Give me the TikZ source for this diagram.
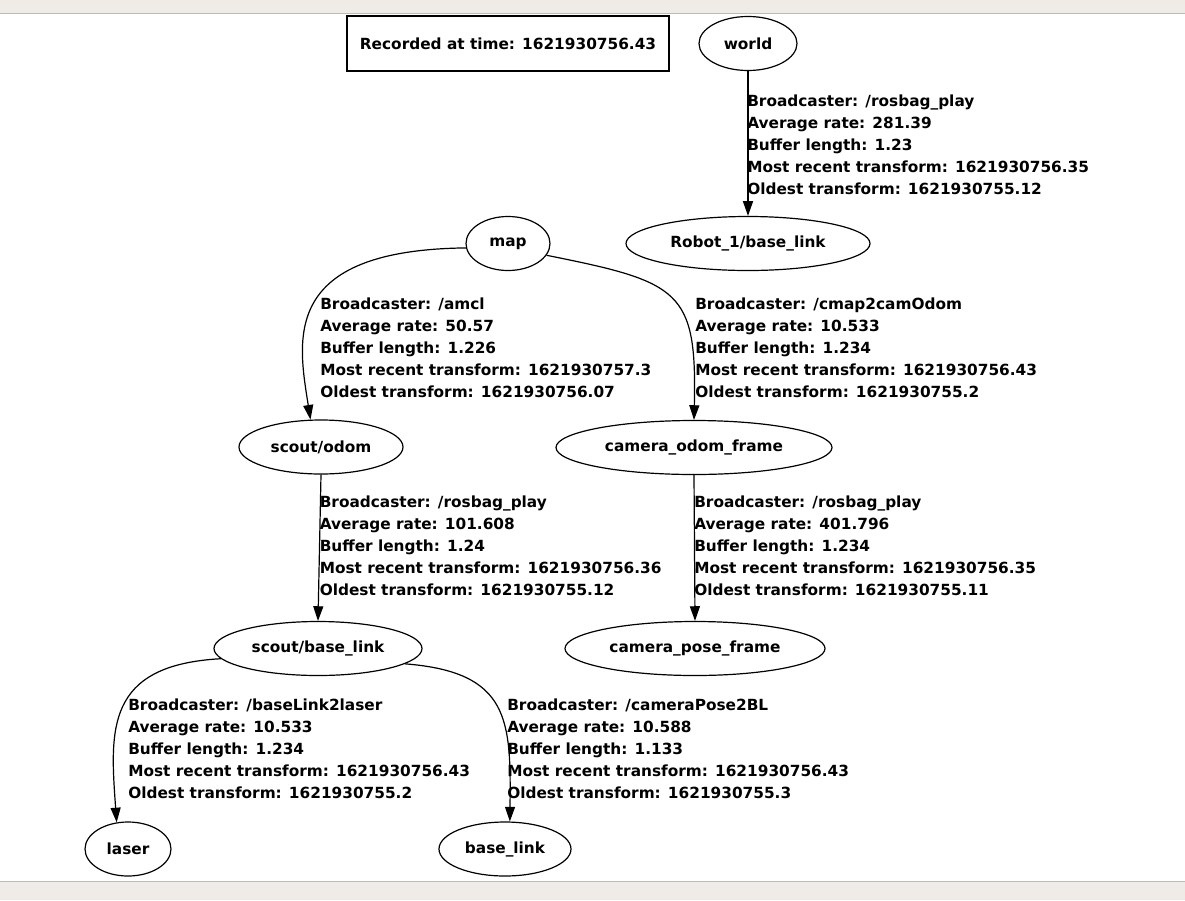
\documentclass[tikz,border=0pt]{standalone}
\usepackage{fontspec}
\setmainfont{DejaVu Sans}
\usetikzlibrary{shapes.geometric,arrows.meta}
\definecolor{panel}{HTML}{EFEBE7}
\definecolor{panelline}{HTML}{BEBAB5}
\begin{document}
\begin{tikzpicture}[x=0.75pt,y=-0.75pt,
  every node/.style={font=\bfseries\fontsize{11.5}{16.5}\selectfont,inner sep=0pt},
  frame/.style={ellipse,draw,line width=0.9pt,minimum height=40.5pt,minimum width=#1},
  info/.style={anchor=north west,align=left},
  tf/.style={line width=0.9pt,-{Triangle[length=11pt,width=7.5pt]}}]
\useasboundingbox (0,0) rectangle (1185,900);
\fill[panel] (0,0) rectangle (1185,13);
\fill[panel] (0,881) rectangle (1185,900);
\draw[panelline] (0,13) -- (1185,13);
\draw[panelline] (0,881) -- (1185,881);

\node[draw,line width=0.9pt,minimum width=241.5pt,minimum height=41.25pt] (stamp) at (508,43.5) {Recorded at time: 1621930756.43};
\node[frame=73.5pt] (world) at (748,43.5) {world};
\node[frame=183pt] (robot) at (748,243.5) {Robot\_1/base\_link};
\node[frame=63pt] (map) at (508,243.5) {map};
\node[frame=123pt] (odom) at (321,447) {scout/odom};
\node[frame=207pt] (camodom) at (694,447.5) {camera\_odom\_frame};
\node[frame=156pt] (scoutbase) at (318,648.5) {scout/base\_link};
\node[frame=195pt] (campose) at (695,648.5) {camera\_pose\_frame};
\node[frame=64.5pt] (laser) at (128,849) {laser};
\node[frame=99pt] (baselink) at (505,849) {base\_link};

\draw[tf] (world.south) -- (robot.north);
\draw[tf] (map.186) .. controls (280,250) and (298,340) .. (odom.111);
\draw[tf] (map.343) .. controls (680,282) and (697,290) .. (camodom.north);
\draw[tf] (odom.south) -- (scoutbase.north);
\draw[tf] (camodom.south) -- (campose.north);
\draw[tf] (scoutbase.186) .. controls (105,665) and (110,730) .. (laser.113);
\draw[tf] (scoutbase.350) .. controls (510,672) and (511,720) .. (baselink.80);

\node[info] (lworld) at (747,94.8) {Broadcaster: /rosbag\_play\\Average rate: 281.39\\Buffer length: 1.23\\Most recent transform: 1621930756.35\\Oldest transform: 1621930755.12};
\node[info] (lamcl) at (320,297.3) {Broadcaster: /amcl\\Average rate: 50.57\\Buffer length: 1.226\\Most recent transform: 1621930757.3\\Oldest transform: 1621930756.07};
\node[info] (lcam) at (695,297.3) {Broadcaster: /cmap2camOdom\\Average rate: 10.533\\Buffer length: 1.234\\Most recent transform: 1621930756.43\\Oldest transform: 1621930755.2};
\node[info] (lodom) at (319.5,495.3) {Broadcaster: /rosbag\_play\\Average rate: 101.608\\Buffer length: 1.24\\Most recent transform: 1621930756.36\\Oldest transform: 1621930755.12};
\node[info] (lpose) at (694,495.3) {Broadcaster: /rosbag\_play\\Average rate: 401.796\\Buffer length: 1.234\\Most recent transform: 1621930756.35\\Oldest transform: 1621930755.11};
\node[info] (llaser) at (128,699) {Broadcaster: /baseLink2laser\\Average rate: 10.533\\Buffer length: 1.234\\Most recent transform: 1621930756.43\\Oldest transform: 1621930755.2};
\node[info] (lbase) at (507,699) {Broadcaster: /cameraPose2BL\\Average rate: 10.588\\Buffer length: 1.133\\Most recent transform: 1621930756.43\\Oldest transform: 1621930755.3};
\end{tikzpicture}
\end{document}
